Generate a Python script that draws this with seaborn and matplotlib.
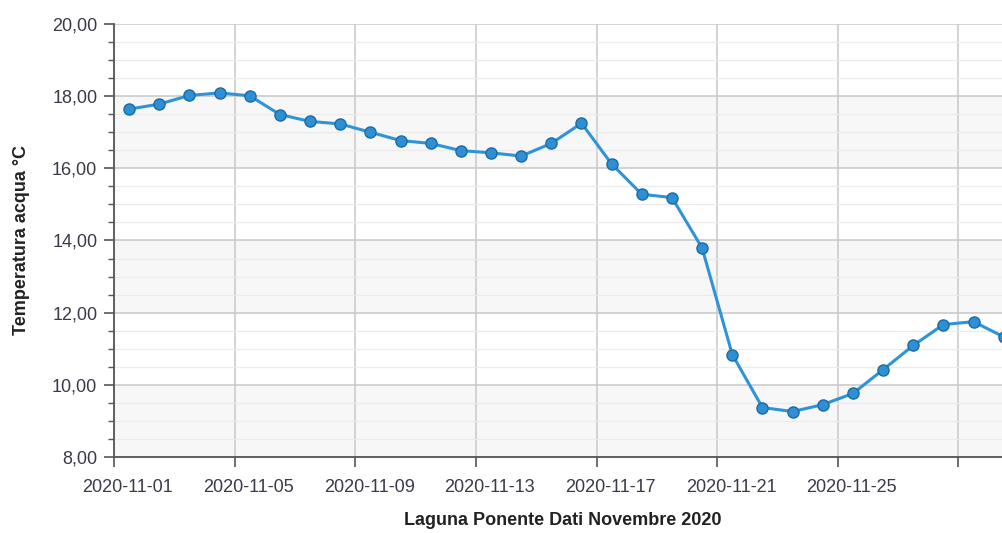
import numpy as np
import pandas as pd
import matplotlib
matplotlib.use("Agg")
import matplotlib.pyplot as plt
from matplotlib.ticker import FuncFormatter, MultipleLocator
import seaborn as sns

# daily readings, November 2020 (taken around midday)
days = pd.date_range("2020-11-01 12:00", periods=30, freq="D")
temps = [17.64, 17.78, 18.02, 18.09, 18.01, 17.49, 17.30, 17.23, 17.00, 16.77,
         16.69, 16.49, 16.43, 16.34, 16.69, 17.25, 16.12, 15.28, 15.19, 13.79,
         10.84, 9.37, 9.26, 9.45, 9.76, 10.42, 11.09, 11.67, 11.75, 11.33]
shaded_bands = [(8, 10), (12, 14), (16, 18)]
x_ticks = pd.date_range("2020-11-01", "2020-11-29", freq="4D")

df = pd.DataFrame({"data": days, "temp": temps})

sns.set_style("white")
plt.rcParams["font.family"] = ["Liberation Sans", "DejaVu Sans"]

fig = plt.figure(figsize=(10.03, 5.33), dpi=100)
ax = fig.add_axes([0.1137, 0.1426, 0.8895, 0.8124])

for lo, hi in shaded_bands:
    ax.axhspan(lo, hi, color="#f7f7f7", zorder=0, lw=0)

sns.lineplot(data=df, x="data", y="temp", ax=ax, color="#2f93d8", lw=2.2,
             marker="o", markersize=8, markerfacecolor="#2f8fd5",
             markeredgecolor="#1c6aa3", markeredgewidth=1.0, zorder=5,
             clip_on=True)

ax.set_ylim(8, 20)
ax.set_xlim(pd.Timestamp("2020-11-01"), pd.Timestamp("2020-11-30 14:00"))

ax.yaxis.set_major_locator(MultipleLocator(2))
ax.yaxis.set_minor_locator(MultipleLocator(0.5))
ax.yaxis.set_major_formatter(FuncFormatter(lambda v, _: f"{v:.2f}".replace(".", ",")))

# tick marks at midnight, date labels sit a bit to the right (minor ticks, no mark)
ax.set_xticks(x_ticks)
ax.set_xticklabels([""] * len(x_ticks))
lbl_pos = x_ticks[:-1] + pd.Timedelta(hours=11)
ax.set_xticks(lbl_pos, minor=True)
ax.set_xticklabels([d.strftime("%Y-%m-%d") for d in x_ticks[:-1]], minor=True)

ax.grid(True, which="major", color="#c8c8c8", lw=1.1, zorder=1)
ax.grid(True, which="minor", axis="y", color="#ebebeb", lw=0.9, zorder=1)
ax.set_axisbelow(True)

for s in ["top", "right"]:
    ax.spines[s].set_visible(False)
for s in ["left", "bottom"]:
    ax.spines[s].set_color("#555555")
    ax.spines[s].set_linewidth(1.3)

ax.tick_params(axis="both", which="major", length=7, width=1.2, color="#555555",
               labelsize=13, labelcolor="#3a3a4a", direction="out", left=True, bottom=True)
ax.tick_params(axis="y", which="minor", length=4, width=1.0, color="#555555", left=True)
ax.tick_params(axis="x", which="minor", length=0, labelsize=13, labelcolor="#3a3a4a",
               pad=16, bottom=True)
ax.tick_params(axis="y", pad=5)

ax.set_xlabel("Laguna Ponente Dati Novembre 2020", fontsize=13, fontweight="bold",
              color="#222222")
ax.set_ylabel("Temperatura acqua °C", fontsize=13, fontweight="bold",
              color="#222222")
ax.yaxis.set_label_coords(-0.094, 0.5)
ax.xaxis.set_label_coords(0.503, -0.128)

fig.savefig("out.png", dpi=100)
